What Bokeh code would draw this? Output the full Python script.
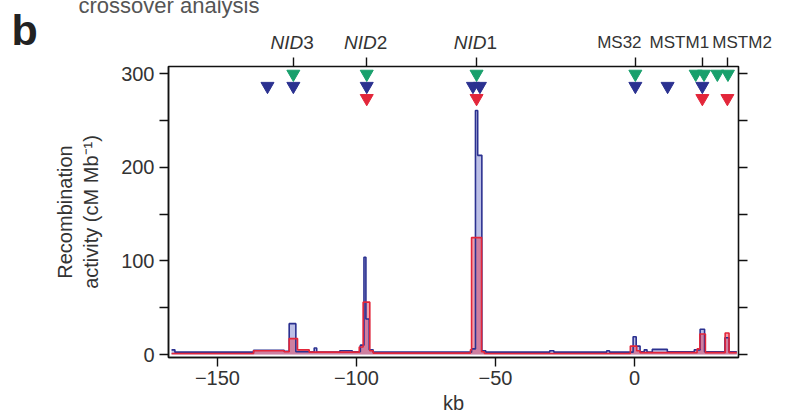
from bokeh.plotting import figure
from bokeh.layouts import column
from bokeh.models import Range1d, FixedTicker, LinearAxis, CustomJSTickFormatter
from bokeh.core.properties import value
from bokeh.embed import file_html
from bokeh.resources import INLINE

# ---- data -------------------------------------------------------------
# marker loci along the region (kb)
gene_names = ["NID", "NID", "NID", "MS32", "MSTM1", "MSTM2"]
gene_suffix = ["3", "2", "1", "", "", ""]
gene_pos = [-122.7, -96.3, -56.8, 0.3, 24.4, 33.3]

# inverted triangles marking hotspots in each analysis
green_x = [-122.7, -96.3, -56.8, 0.3, 22.0, 25.0, 29.8, 33.6]
blue_x = [-132.0, -122.7, -96.3, -58.1, -55.6, 0.3, 11.9, 24.4]
red_x = [-96.3, -56.8, 24.4, 33.4]

# recombination activity (cM/Mb), step functions over bins (kb edges)
blue_edges = [-166.5, -165.3, -137.0, -126.0, -124.2, -121.8, -115.2, -114.3,
              -106.0, -101.5, -98.6, -97.3, -96.6, -95.4, -94.0, -58.6, -57.2,
              -56.4, -54.9, -53.5, -30.5, -29.0, -10.0, -9.0, -0.5, 0.6, 2.0,
              3.5, 4.5, 6.4, 11.8, 21.5, 23.6, 25.2, 32.5, 34.0, 36.8]
blue_vals = [5, 2.5, 4.5, 3.5, 33, 3, 7, 2.5, 4, 3, 10, 104, 38, 5, 2.5, 6,
             261, 213, 4, 2.5, 4, 2.5, 4, 2.5, 19, 9, 3, 5, 2.5, 5.5, 3, 5,
             27, 3, 18, 3]

red_edges = [-166.5, -137.0, -126.0, -124.2, -121.2, -117.0, -99.0, -97.6,
             -95.2, -94.0, -59.0, -58.6, -55.0, -54.0, -1.5, 0.8, 2.0, 22.5,
             23.5, 25.5, 32.6, 34.0, 36.8]
red_vals = [1, 4, 3, 17, 5, 2.5, 8, 56, 4, 1.5, 5, 125, 3, 1, 9, 4, 2, 6, 22,
            2, 23, 2]

y_ticks = [0, 100, 200, 300]
y_minor = [50, 150, 250]
x_ticks = [-150, -100, -50, 0]

# ---- styling / layout -------------------------------------------------
GREEN = "#18a06c"
BLUE = "#2b3190"
RED = "#e3263a"
TEXT = "#333333"
AXIS = "#111111"
FONT = "Liberation Sans"

ROW_GREEN, ROW_BLUE, ROW_RED = 300, 287, 274

W = 795
LEFT, RIGHT = 168, 57
TOP_H = 52          # header strip with locus names
MAIN_H = 419 - TOP_H
X0, X1 = -167.6, 37.4

# horizontal nudges (px) of each locus name relative to its tick
name_dx = [10, 10, 10, -16, -23, 15]


def step_xy(edges, vals):
    xs, ys = [], []
    for i, v in enumerate(vals):
        xs += [edges[i], edges[i + 1]]
        ys += [v, v]
    return xs, ys


blank = CustomJSTickFormatter(code="return ''")

# ---- main panel -------------------------------------------------------
p = figure(width=W, height=MAIN_H, output_backend="svg", toolbar_location=None,
           title=None, x_range=Range1d(X0, X1), y_range=Range1d(-3.2, 308),
           min_border_left=LEFT, min_border_right=RIGHT,
           min_border_top=14, min_border_bottom=62)
p.frame_align = False
p.xgrid.visible = False
p.ygrid.visible = False
p.outline_line_color = AXIS
p.outline_line_width = 1.6

bx, by = step_xy(blue_edges, blue_vals)
rx, ry = step_xy(red_edges, red_vals)
p.varea(x=bx, y1=[0] * len(by), y2=by, fill_color="#6a70c8", fill_alpha=0.45)
p.varea(x=rx, y1=[0] * len(ry), y2=ry, fill_color="#e0405a", fill_alpha=0.5)
p.line(bx, by, line_color=BLUE, line_width=1.6)
p.line(rx, ry, line_color=RED, line_width=1.6)

p.scatter(green_x, [ROW_GREEN] * len(green_x), marker="inverted_triangle",
          size=13, color=GREEN)
p.scatter(blue_x, [ROW_BLUE] * len(blue_x), marker="inverted_triangle",
          size=13, color=BLUE)
p.scatter(red_x, [ROW_RED] * len(red_x), marker="inverted_triangle",
          size=13, color=RED)

for ax in (p.xaxis[0], p.yaxis[0]):
    ax.axis_line_color = AXIS
    ax.axis_line_width = 1.4
    ax.major_tick_line_color = AXIS
    ax.major_tick_line_width = 1.4
    ax.major_tick_in = 0
    ax.major_tick_out = 9
    ax.major_label_text_font = FONT
    ax.major_label_text_font_size = "20px"
    ax.major_label_text_color = TEXT
    ax.axis_label_text_font = FONT
    ax.axis_label_text_font_size = "20px"
    ax.axis_label_text_font_style = "normal"
    ax.axis_label_text_color = TEXT

p.xaxis[0].ticker = FixedTicker(ticks=x_ticks)
p.xaxis[0].major_label_overrides = {t: str(t).replace("-", "\u2212") for t in x_ticks}
p.xaxis[0].major_label_standoff = 4
p.xaxis[0].axis_label = "kb"
p.xaxis[0].axis_label_standoff = 4

p.yaxis[0].ticker = FixedTicker(ticks=y_ticks, minor_ticks=y_minor)
p.yaxis[0].minor_tick_line_color = AXIS
p.yaxis[0].minor_tick_line_width = 1.4
p.yaxis[0].minor_tick_in = 0
p.yaxis[0].minor_tick_out = 9
p.yaxis[0].major_label_standoff = 5
p.yaxis[0].axis_label = "Recombination\nactivity (cM Mb\u207b\u00b9)"
p.yaxis[0].axis_label_standoff = 16

right = LinearAxis(ticker=FixedTicker(ticks=[0, 50, 100, 150, 200, 250, 300]),
                   formatter=blank, axis_line_color=AXIS, major_tick_line_color=AXIS,
                   major_tick_line_width=1.4, major_tick_in=0, major_tick_out=9,
                   major_label_standoff=0, minor_tick_line_color=None)
p.add_layout(right, "right")

top = LinearAxis(ticker=FixedTicker(ticks=gene_pos), formatter=blank,
                 axis_line_color=AXIS, major_tick_line_color=AXIS,
                 major_tick_line_width=1.4, major_tick_in=0, major_tick_out=9,
                 major_label_standoff=0, minor_tick_line_color=None)
p.add_layout(top, "above")

# ---- header strip: panel letter, caption and locus names --------------
k = (X1 - X0) / (W - LEFT - RIGHT)
h = figure(width=W, height=TOP_H, output_backend="svg", toolbar_location=None,
           title=None, x_axis_type=None, y_axis_type=None,
           x_range=Range1d(X0 - LEFT * k, X1 + RIGHT * k),
           y_range=Range1d(0, TOP_H), min_border=0,
           min_border_left=0, min_border_right=0,
           min_border_top=0, min_border_bottom=0)
h.frame_align = False
h.xgrid.visible = False
h.ygrid.visible = False
h.outline_line_color = None

name_y = 10.5
for name, suf, x, dx in zip(gene_names, gene_suffix, gene_pos, name_dx):
    if suf:
        h.text(x=[x], y=[name_y], text=[name], x_offset=dx, text_align="right",
               text_baseline="middle", text_font=value(FONT), text_font_size="19px",
               text_font_style=value("italic"), text_color=TEXT)
        h.text(x=[x], y=[name_y], text=[suf], x_offset=dx, text_align="left",
               text_baseline="middle", text_font=value(FONT), text_font_size="19px",
               text_color=TEXT)
    else:
        h.text(x=[x], y=[name_y], text=[name], x_offset=dx, text_align="center",
               text_baseline="middle", text_font=value(FONT), text_font_size="17px",
               text_color=TEXT)

h.text(x=[X0 - (LEFT - 11) * k], y=[23], text=["b"], text_align="left",
       text_baseline="middle", text_font=value(FONT), text_font_size="43px",
       text_font_style=value("bold"), text_color="#222222")
h.text(x=[X0 - (LEFT - 78) * k], y=[46.6], text=["crossover analysis"],
       text_align="left", text_baseline="middle", text_font=value(FONT),
       text_font_size="22px", text_color="#555555")

layout = column(h, p, spacing=0)
open("out.html", "w").write(file_html(layout, INLINE))
